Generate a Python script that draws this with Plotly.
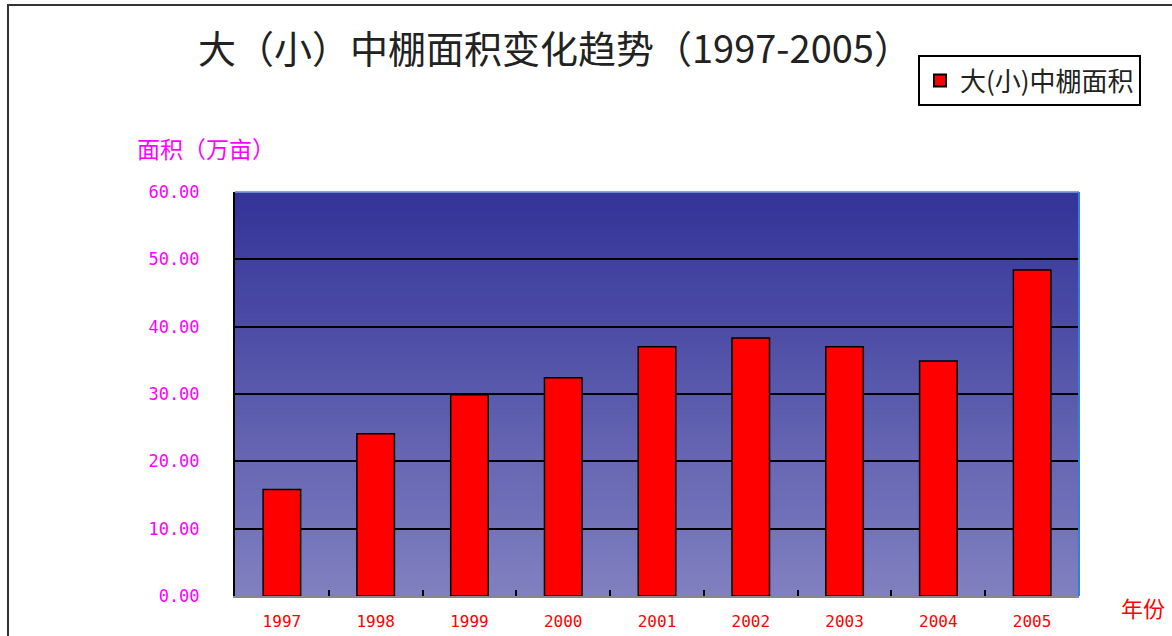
import plotly.graph_objects as go

years = ["1997", "1998", "1999", "2000", "2001", "2002", "2003", "2004", "2005"]
area = [15.8, 24.1, 29.9, 32.4, 37.0, 38.3, 37.0, 34.9, 48.4]
y_ticks = [0, 10, 20, 30, 40, 50, 60]
y_tick_text = ["0.00", "10.00", "20.00", "30.00", "40.00", "50.00", "60.00"]

series_name = "大(小)中棚面积"
title_text = "大（小）中棚面积变化趋势（1997-2005）"

fig = go.Figure()
fig.add_trace(go.Bar(
    x=years, y=area, name=series_name,
    marker=dict(color="#FF0000", line=dict(color="#000000", width=1.5)),
    width=0.4,
))

# gradient background of plot area via thin bands
shapes = []
n = 80
top = (51, 51, 153)
bot = (128, 128, 192)
for i in range(n):
    t = i / (n - 1)
    c = tuple(int(round(top[k] + (bot[k] - top[k]) * t)) for k in range(3))
    y1 = 1 - i / n
    y0 = 1 - (i + 1) / n
    shapes.append(dict(type="rect", xref="x domain", yref="y domain",
                       x0=0, x1=1, y0=y0 - 0.001, y1=y1 + 0.001,
                       fillcolor="rgb(%d,%d,%d)" % c, line=dict(width=0),
                       layer="below"))
# top and right frame edges
shapes.append(dict(type="line", xref="x domain", yref="y domain", x0=0, x1=1, y0=1, y1=1,
                   line=dict(color="#7FA8D8", width=1.5)))
shapes.append(dict(type="line", xref="x domain", yref="y domain", x0=1, x1=1, y0=0, y1=1,
                   line=dict(color="#2F7FE0", width=2)))
# outer chart border
shapes.append(dict(type="rect", xref="paper", yref="paper",
                   x0=(8 - 235) / 844, x1=1.2, y0=-0.5, y1=1 + (192 - 5) / 404,
                   line=dict(color="#333333", width=2), fillcolor="rgba(0,0,0,0)"))

fig.update_layout(
    width=1172, height=636,
    margin=dict(l=235, r=93, t=192, b=40, autoexpand=False),
    paper_bgcolor="#FFFFFF",
    plot_bgcolor="rgba(0,0,0,0)",
    shapes=shapes,
    showlegend=True,
    legend=dict(
        x=(918 - 235) / 844, y=1 + (192 - 55) / 404, xanchor="left", yanchor="top",
        bgcolor="#FFFFFF", bordercolor="#000000", borderwidth=2,
        font=dict(family="Noto Sans CJK SC", size=26, color="#222222"),
        itemsizing="constant",
    ),
    xaxis=dict(
        type="category", showgrid=False, showline=True, linecolor="#888888", linewidth=1.5,
        ticks="inside", ticklen=6, tickcolor="#000000", tickwidth=1.5, tickson="boundaries",
        tickfont=dict(family="DejaVu Sans Mono", size=16, color="#FF0000"),
        ticklabelstandoff=10,
    ),
    yaxis=dict(
        range=[0, 60], tickvals=y_ticks, ticktext=y_tick_text,
        showgrid=True, gridcolor="#000000", gridwidth=1.5,
        showline=True, linecolor="#000000", linewidth=2,
        zeroline=False, ticks="",
        tickfont=dict(family="DejaVu Sans Mono", size=17, color="#FF00FF"),
        ticklabelstandoff=30,
    ),
    annotations=[
        dict(text=title_text, xref="paper", yref="paper",
             x=(555 - 235) / 844, y=1 + (192 - 47) / 404, xanchor="center", yanchor="middle",
             showarrow=False, font=dict(family="Noto Sans CJK SC", size=38, color="#222222")),
        dict(text="面积（万亩）", xref="paper", yref="paper",
             x=(135 - 235) / 844, y=1 + (192 - 148) / 404, xanchor="left", yanchor="middle",
             showarrow=False, font=dict(family="Noto Sans CJK SC", size=23, color="#FF00FF")),
        dict(text="年份", xref="paper", yref="paper",
             x=(1119 - 235) / 844, y=-(607 - 596) / 404, xanchor="left", yanchor="middle",
             showarrow=False, font=dict(family="Noto Sans CJK SC", size=22, color="#FF0000")),
    ],
)

fig.write_html("out.html", config={"displayModeBar": False},
               post_script="document.body.style.margin='0';")
